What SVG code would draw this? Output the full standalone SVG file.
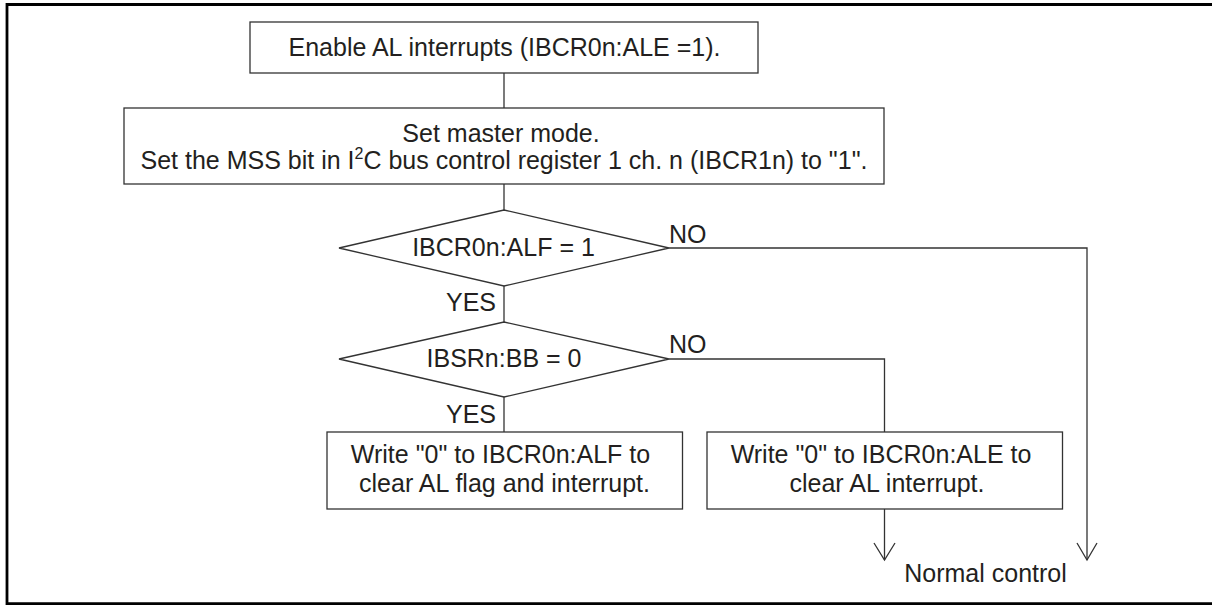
<svg xmlns="http://www.w3.org/2000/svg" width="1212" height="605" viewBox="0 0 1212 605">
<style>
text{font-family:"Liberation Sans",Arial,sans-serif;font-size:25px;fill:#231f20}
.m{text-anchor:middle}
.e{text-anchor:end}
.box{fill:#fff;stroke:#333;stroke-width:1.3}
.ln{fill:none;stroke:#333;stroke-width:1.3}
.frame{fill:none;stroke:#000;stroke-width:2.8}
</style>
<path class="frame" d="M1214,4.5 H7 V603.6 H1214"/>
<g id="connectors">
<path class="ln" d="M504,73 V108"/>
<path class="ln" d="M504,184 V210"/>
<path class="ln" d="M504,286 V322"/>
<path class="ln" d="M504,397 V432"/>
<path class="ln" d="M669,248 H1087 V560"/>
<path class="ln" d="M669,359 H884.5 V432"/>
<path class="ln" d="M884.5,509 V560"/>
<path class="ln" d="M874,543 L884.5,560 L895,543"/>
<path class="ln" d="M1077,543 L1087,560 L1097,543"/>
<text x="496" y="311" class="e">YES</text>
<text x="496" y="423" class="e">YES</text>
<text x="669" y="243">NO</text>
<text x="669" y="353">NO</text>
</g>
<g id="n1">
<rect class="box" x="250" y="22" width="508" height="51"/>
<text x="504.5" y="56" class="m">Enable AL interrupts (IBCR0n:ALE =1).</text>
</g>
<g id="n2">
<rect class="box" x="124" y="108" width="760" height="76"/>
<text x="501" y="142" class="m">Set master mode.</text>
<text x="504" y="168.5" class="m">Set the MSS bit in I<tspan font-size="16" dy="-10">2</tspan><tspan dy="10">C bus control register 1 ch. n (IBCR1n) to "1".</tspan></text>
</g>
<g id="d1">
<polygon class="box" points="504,210 669,248 504,286 339,248"/>
<text x="503.5" y="256" class="m">IBCR0n:ALF = 1</text>
</g>
<g id="d2">
<polygon class="box" points="504,322 669,359 504,397 339,359"/>
<text x="504" y="367" class="m">IBSRn:BB = 0</text>
</g>
<g id="n3">
<rect class="box" x="327" y="432" width="355.5" height="77"/>
<text x="500.5" y="463" class="m">Write "0" to IBCR0n:ALF to</text>
<text x="504.5" y="492" class="m">clear AL flag and interrupt.</text>
</g>
<g id="n4">
<rect class="box" x="707" y="432" width="355.5" height="77"/>
<text x="881" y="463" class="m">Write "0" to IBCR0n:ALE to</text>
<text x="887" y="492" class="m">clear AL interrupt.</text>
</g>
<g id="n5">
<text x="985.5" y="582" class="m">Normal control</text>
</g>
</svg>
